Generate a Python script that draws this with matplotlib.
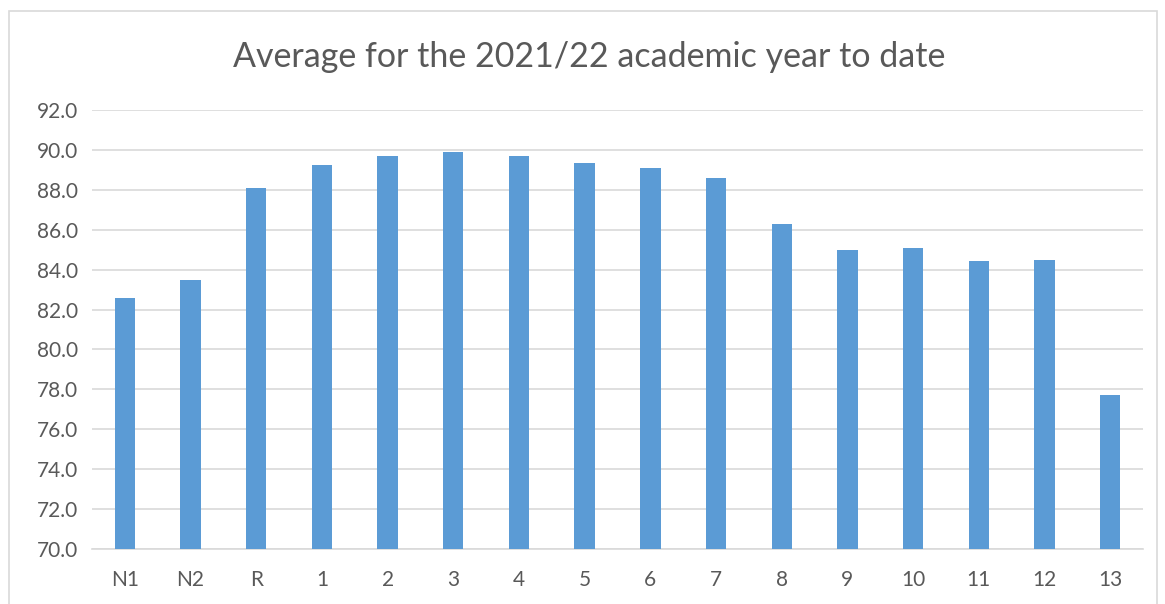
import matplotlib.pyplot as plt
from matplotlib.patches import Rectangle

plt.rcParams['font.family'] = ['Lato', 'DejaVu Sans']

years = ['N1', 'N2', 'R', '1', '2', '3', '4', '5', '6', '7', '8', '9', '10', '11', '12', '13']
averages = [82.6, 83.5, 88.1, 89.25, 89.7, 89.9, 89.7, 89.35, 89.1, 88.6, 86.3, 85.0, 85.1, 84.45, 84.5, 77.7]

W, H = 1165, 604
fig = plt.figure(figsize=(W / 100, H / 100), dpi=100)
ax = fig.add_axes([92 / W, 55 / H, (1143 - 92) / W, (549 - 110) / H])

x = range(len(years))
ax.bar(x, averages, width=0.31, color='#5B9BD5', zorder=3)

ax.set_xlim(-0.5, len(years) - 0.5)
ax.set_ylim(70, 92)
ax.set_yticks([70 + 2 * i for i in range(12)])
ax.set_yticklabels([f'{70 + 2 * i:.1f}' for i in range(12)])
ax.set_xticks(list(x))
ax.set_xticklabels(years)
ax.grid(axis='y', color='#D9D9D9', linewidth=1.2, zorder=0)
for s in ['top', 'right', 'left']:
    ax.spines[s].set_visible(False)
ax.spines['bottom'].set_color('#D9D9D9')
ax.spines['bottom'].set_linewidth(1.2)
ax.tick_params(length=0, labelsize=15, colors='#595959')
ax.tick_params(axis='x', pad=15)
ax.tick_params(axis='y', pad=10)

fig.text(0.506, 1 - 57 / H, 'Average for the 2021/22 academic year to date',
         ha='center', va='center', fontsize=24.5, color='#595959')

fig.patches.append(Rectangle((9 / W, -0.05), (1157 - 9) / W, 1.05 - 11 / H,
                             transform=fig.transFigure, fill=False,
                             edgecolor='#D9D9D9', linewidth=1.2))

fig.savefig('out.png', dpi=100)
